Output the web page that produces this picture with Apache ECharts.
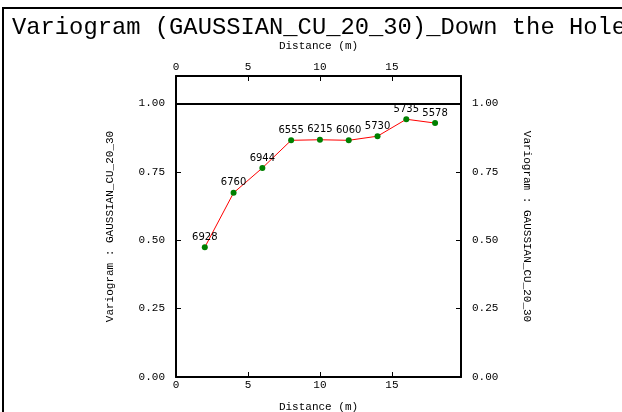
<!DOCTYPE html>
<html>
<head>
<meta charset="utf-8">
<script src="https://cdn.jsdelivr.net/npm/echarts@6/dist/echarts.min.js"></script>
<style>html,body{margin:0;padding:0;background:#fff;}#c{width:622px;height:412px;}</style>
</head>
<body>
<div id="c"></div>
<script>
var titleText = 'Variogram (GAUSSIAN_CU_20_30)_Down the Hole';
var distances = [2, 4, 6, 8, 10, 12, 14, 16, 18];
var variogram = [0.474, 0.673, 0.764, 0.865, 0.867, 0.865, 0.880, 0.942, 0.928];
var pairs = [6928, 6760, 6944, 6555, 6215, 6060, 5730, 5735, 5578];
var sill = 1.0;
var xName = 'Distance (m)';
var yName = 'Variogram : GAUSSIAN_CU_20_30';

var mono = '"Courier New", "Liberation Mono", monospace';
var chart = echarts.init(document.getElementById('c'));
var data = distances.map(function (d, i) { return [d, variogram[i]]; });

function xAxisCfg(pos, gap) {
  return {
    type: 'value', position: pos, min: 0, max: 19.8, interval: 5,
    name: xName, nameLocation: 'middle', nameGap: gap,
    nameTextStyle: { fontFamily: mono, fontSize: 11, color: '#000' },
    axisLine: { show: true, onZero: false, lineStyle: { color: '#000', width: 2 } },
    axisTick: { show: true, inside: true, length: 5, lineStyle: { color: '#000' } },
    axisLabel: { fontFamily: mono, fontSize: 11, color: '#000', margin: 3, showMaxLabel: false },
    splitLine: { show: false }
  };
}
function yAxisCfg(pos, rot) {
  return {
    type: 'value', position: pos, min: 0, max: 1.1, interval: 0.25,
    name: yName, nameLocation: 'middle', nameGap: 60, nameRotate: rot,
    nameTextStyle: { fontFamily: mono, fontSize: 11, color: '#000' },
    axisLine: { show: true, onZero: false, lineStyle: { color: '#000', width: 2 } },
    axisTick: { show: true, inside: true, length: 5, lineStyle: { color: '#000' } },
    axisLabel: { fontFamily: mono, fontSize: 11, color: '#000', margin: 11, showMaxLabel: false,
      formatter: function (v) { return v.toFixed(2); } },
    splitLine: { show: false }
  };
}

chart.setOption({
  animation: false,
  backgroundColor: '#fff',
  title: {
    text: titleText, left: 7, top: 11,
    textStyle: { fontFamily: mono, fontSize: 23.8, fontWeight: 'normal', color: '#000' }
  },
  graphic: [
    { type: 'line', shape: { x1: 3, y1: 8, x2: 3, y2: 412 }, style: { stroke: '#000', lineWidth: 2 } },
    { type: 'line', shape: { x1: 2, y1: 8, x2: 622, y2: 8 }, style: { stroke: '#000', lineWidth: 2 } }
  ],
  grid: { left: 176, right: 161, top: 76, bottom: 35, outerBoundsMode: 'none', containLabel: false },
  xAxis: [xAxisCfg('bottom', 25), xAxisCfg('top', 24)],
  yAxis: [yAxisCfg('left', 90), yAxisCfg('right', -90)],
  series: [{
    type: 'line', data: data, xAxisIndex: 0, yAxisIndex: 0,
    symbol: 'circle', symbolSize: 6,
    lineStyle: { color: '#ff0000', width: 1 },
    itemStyle: { color: '#008000' },
    label: {
      show: true, position: 'top', distance: 2,
      fontFamily: '"DejaVu Sans", Verdana, sans-serif', fontSize: 10, color: '#000',
      formatter: function (p) { return String(pairs[p.dataIndex]); }
    },
    markLine: {
      silent: true, symbol: 'none', label: { show: false },
      lineStyle: { color: '#000', width: 2, type: 'solid' },
      data: [{ yAxis: sill }]
    }
  }]
});
</script>
</body>
</html>
